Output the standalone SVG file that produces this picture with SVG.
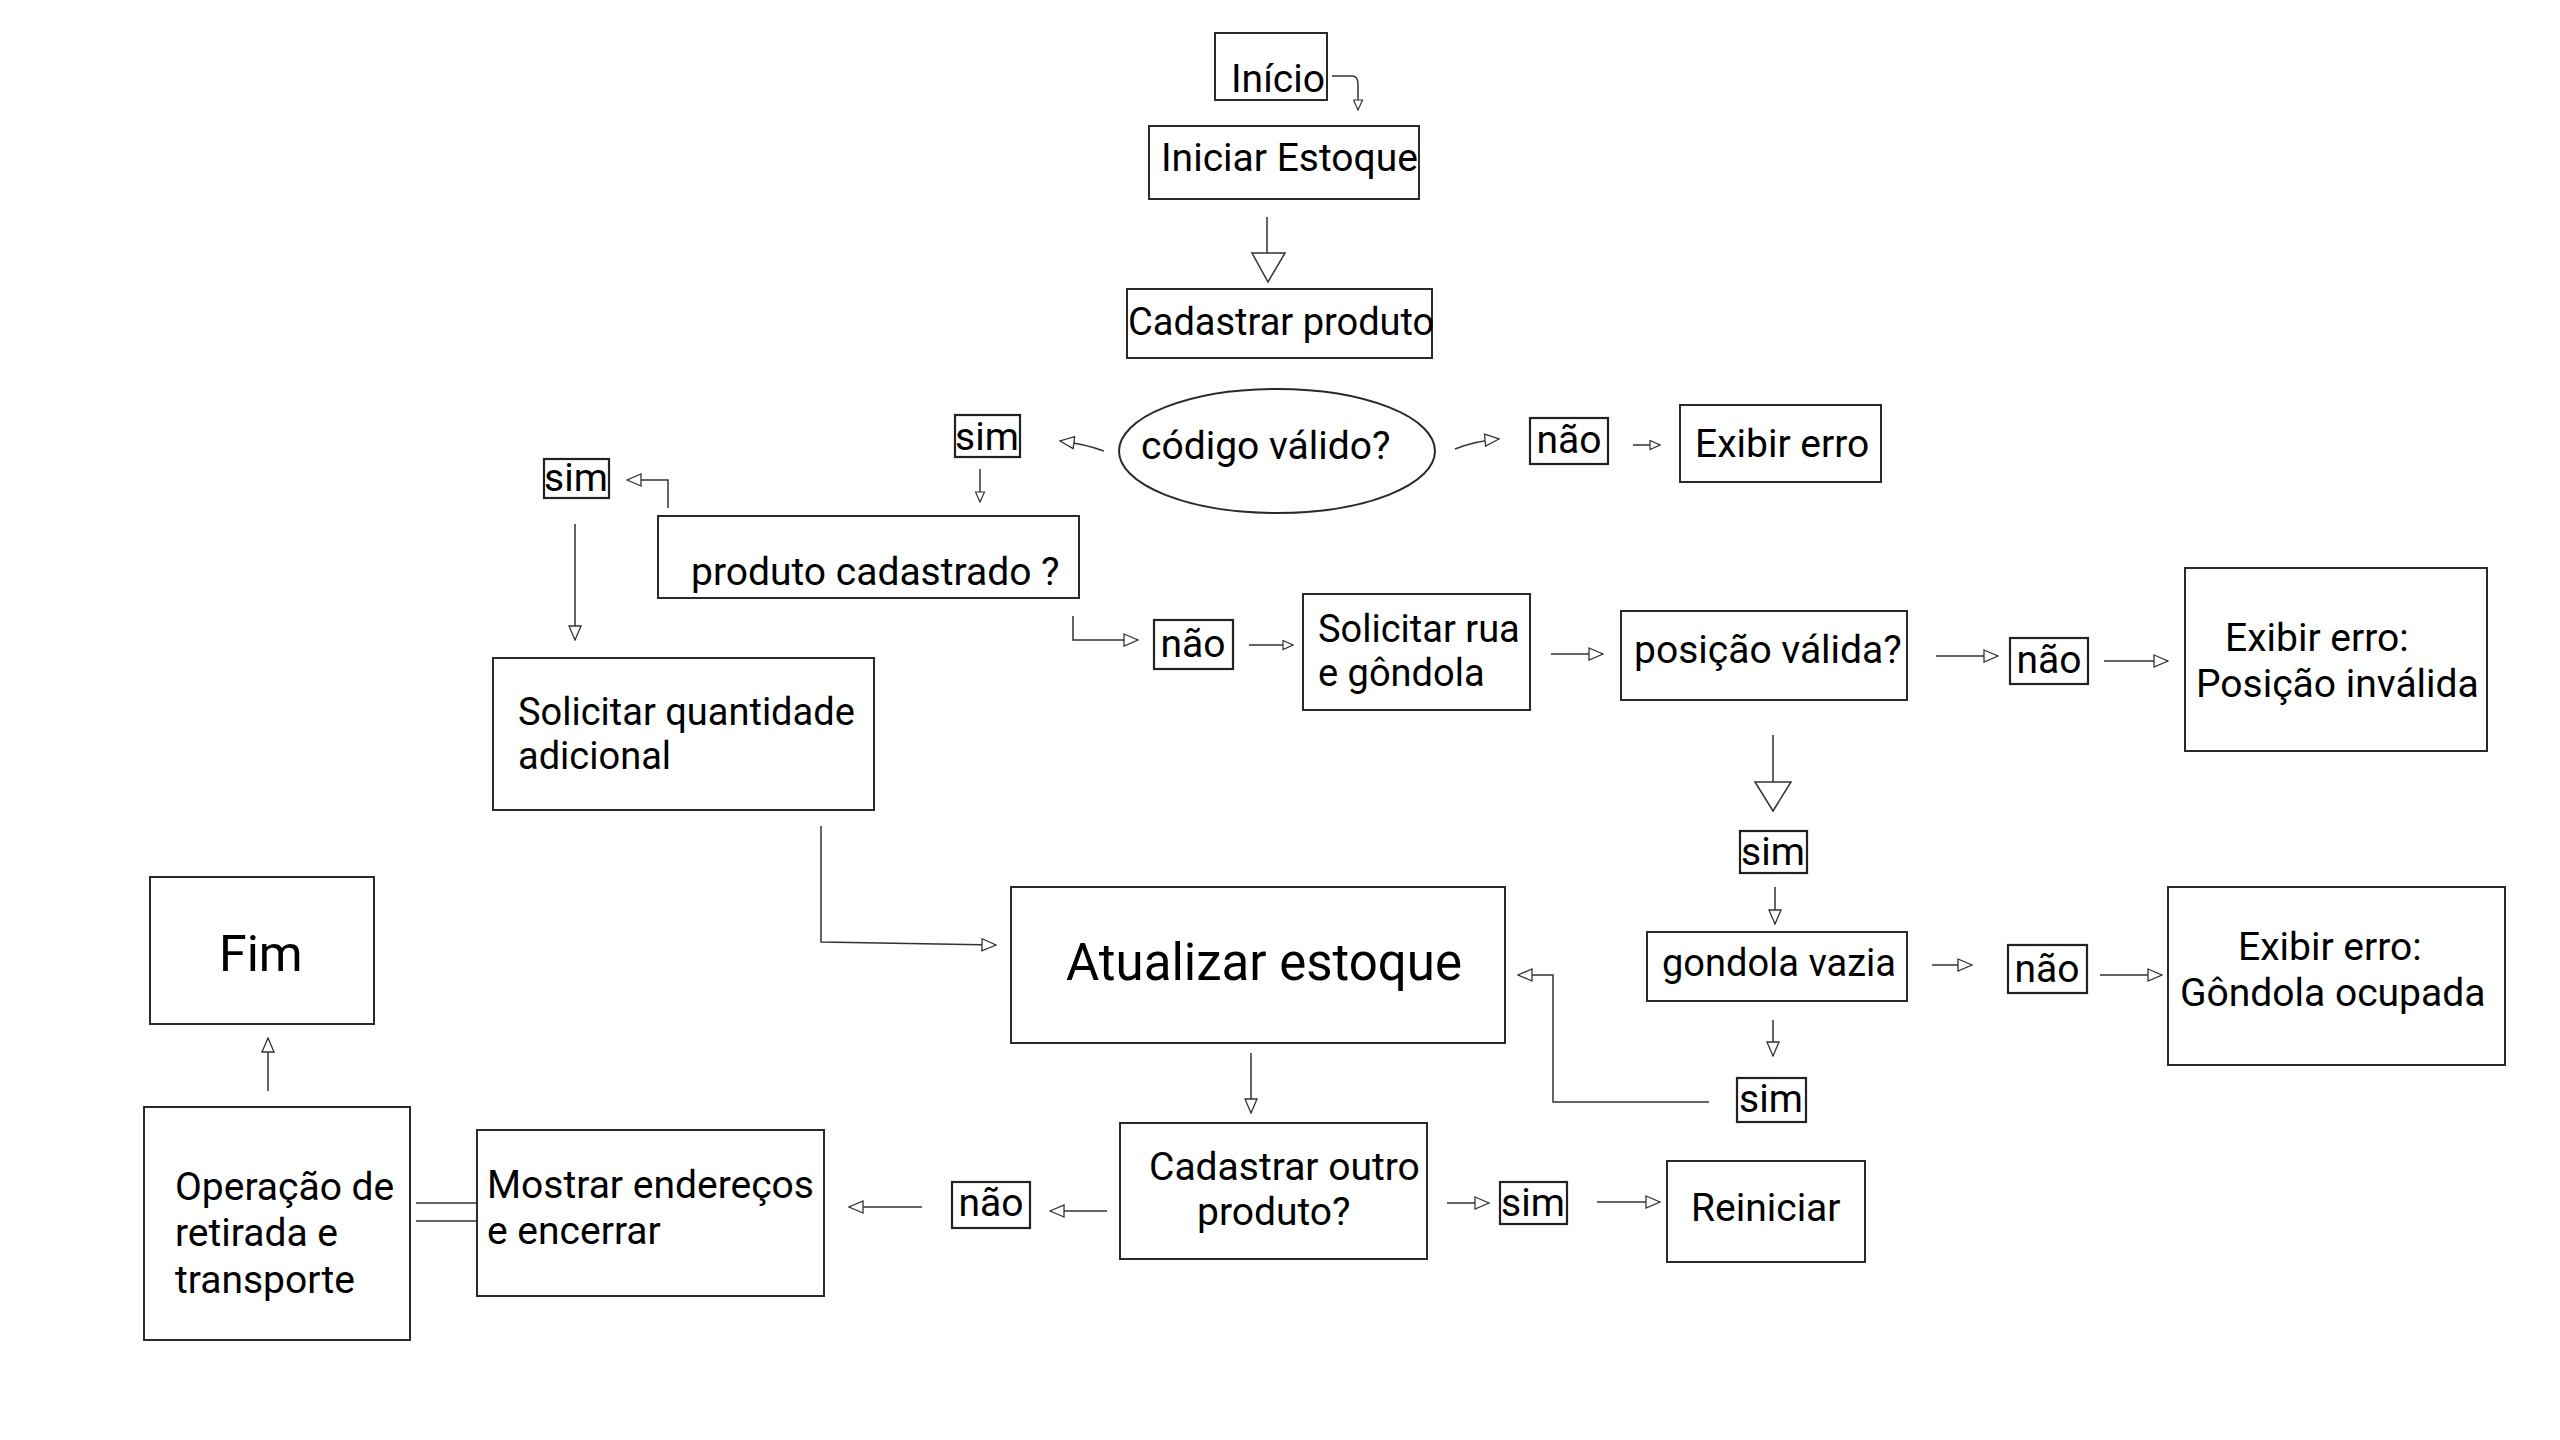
<svg xmlns="http://www.w3.org/2000/svg" width="2560" height="1440" viewBox="0 0 2560 1440">
<style>
.box{fill:#fff;stroke:#2a2a2a;stroke-width:2}
.lbl{fill:#fff;stroke:#222;stroke-width:2.2}
.t{font-family:Roboto,"Liberation Sans",sans-serif;font-size:39px;fill:#000}
.s38{font-size:38px}
.tm{text-anchor:middle}
.c{fill:none;stroke:#333;stroke-width:1.5}
.big{fill:#fff;stroke:#333;stroke-width:1.5}
</style>
<defs>
<marker id="ah" viewBox="0 0 16 14" refX="15" refY="7" markerWidth="16" markerHeight="14" markerUnits="userSpaceOnUse" orient="auto"><path d="M1,1 L15,7 L1,13 z" fill="#fff" stroke="#333" stroke-width="1.3"/></marker>
<marker id="ahs" viewBox="0 0 12 11" refX="11" refY="5.5" markerWidth="12" markerHeight="11" markerUnits="userSpaceOnUse" orient="auto"><path d="M1,1 L11,5.5 L1,10 z" fill="#fff" stroke="#333" stroke-width="1.2"/></marker>
</defs>
<rect width="2560" height="1440" fill="#fff"/>

<g id="connectors">
<path class="c" d="M1332,76 L1352,76 Q1358,76 1358,84 L1358,110" marker-end="url(#ahs)"/>
<line class="c" x1="1267" y1="217" x2="1267" y2="280"/>
<polygon class="big" points="1252,253 1285,253 1268,282"/>
<path class="c" d="M1104,451 Q1085,444 1060,441" marker-end="url(#ah)"/>
<path class="c" d="M1455,449 Q1475,441 1499,439" marker-end="url(#ah)"/>
<line class="c" x1="1633" y1="445" x2="1660" y2="445" marker-end="url(#ahs)"/>
<line class="c" x1="980" y1="469" x2="980" y2="502" marker-end="url(#ahs)"/>
<path class="c" d="M668,508 L668,480 L627,480" marker-end="url(#ah)"/>
<line class="c" x1="575" y1="524" x2="575" y2="640" marker-end="url(#ah)"/>
<path class="c" d="M1073,616 L1073,640 L1138,640" marker-end="url(#ah)"/>
<line class="c" x1="1249" y1="645" x2="1293" y2="645" marker-end="url(#ahs)"/>
<line class="c" x1="1551" y1="654" x2="1603" y2="654" marker-end="url(#ah)"/>
<line class="c" x1="1936" y1="656" x2="1998" y2="656" marker-end="url(#ah)"/>
<line class="c" x1="2104" y1="661" x2="2168" y2="661" marker-end="url(#ah)"/>
<line class="c" x1="1773" y1="735" x2="1773" y2="811"/>
<polygon class="big" points="1755,782 1791,782 1773,811"/>
<line class="c" x1="1775" y1="887" x2="1775" y2="924" marker-end="url(#ah)"/>
<line class="c" x1="1932" y1="965" x2="1972" y2="965" marker-end="url(#ah)"/>
<line class="c" x1="2100" y1="975" x2="2162" y2="975" marker-end="url(#ah)"/>
<line class="c" x1="1773" y1="1020" x2="1773" y2="1056" marker-end="url(#ah)"/>
<path class="c" d="M1709,1102 L1553,1102 L1553,975 L1518,975" marker-end="url(#ah)"/>
<path class="c" d="M821,826 L821,942 L996,945" marker-end="url(#ah)"/>
<line class="c" x1="1251" y1="1053" x2="1251" y2="1113" marker-end="url(#ah)"/>
<line class="c" x1="1447" y1="1203" x2="1489" y2="1203" marker-end="url(#ah)"/>
<line class="c" x1="1597" y1="1202" x2="1660" y2="1202" marker-end="url(#ah)"/>
<line class="c" x1="1107" y1="1211" x2="1050" y2="1211" marker-end="url(#ah)"/>
<line class="c" x1="922" y1="1207" x2="849" y2="1207" marker-end="url(#ah)"/>
<line class="c" x1="416" y1="1203" x2="476" y2="1203"/>
<line class="c" x1="416" y1="1221" x2="476" y2="1221"/>
<line class="c" x1="268" y1="1091" x2="268" y2="1038" marker-end="url(#ah)"/>
</g>

<g id="inicio"><rect class="box" x="1215" y="33" width="112" height="67"/><text class="t" x="1231" y="92">Início</text></g>
<g id="iniciar-estoque"><rect class="box" x="1149" y="126" width="270" height="73"/><text class="t" x="1161" y="171">Iniciar Estoque</text></g>
<g id="cadastrar-produto"><rect class="box" x="1127" y="289" width="305" height="69"/><text class="t s38" x="1128" y="335">Cadastrar produto</text></g>
<g id="codigo-valido"><ellipse class="box" cx="1277" cy="451" rx="158" ry="62"/><text class="t" x="1141" y="459">código válido?</text></g>
<g id="nao-1"><rect class="lbl" x="1530" y="418" width="78" height="46"/><text class="t tm" x="1569" y="453">não</text></g>
<g id="exibir-erro"><rect class="box" x="1680" y="405" width="201" height="77"/><text class="t" x="1695" y="457">Exibir erro</text></g>
<g id="sim-1"><rect class="lbl" x="955" y="415" width="65" height="42"/><text class="t tm" x="987" y="450">sim</text></g>
<g id="produto-cadastrado"><rect class="box" x="658" y="516" width="421" height="82"/><text class="t" x="691" y="585">produto cadastrado ?</text></g>
<g id="sim-2"><rect class="lbl" x="544" y="459" width="65" height="39"/><text class="t tm" x="576" y="491">sim</text></g>
<g id="solicitar-quantidade"><rect class="box" x="493" y="658" width="381" height="152"/><text class="t s38" x="518" y="725">Solicitar quantidade<tspan x="518" y="769">adicional</tspan></text></g>
<g id="nao-2"><rect class="lbl" x="1154" y="620" width="79" height="49"/><text class="t tm" x="1193" y="657">não</text></g>
<g id="solicitar-rua"><rect class="box" x="1303" y="594" width="227" height="116"/><text class="t s38" x="1318" y="642">Solicitar rua<tspan x="1318" y="686">e gôndola</tspan></text></g>
<g id="posicao-valida"><rect class="box" x="1621" y="611" width="286" height="89"/><text class="t" x="1634" y="663">posição válida?</text></g>
<g id="nao-3"><rect class="lbl" x="2010" y="638" width="78" height="46"/><text class="t tm" x="2049" y="673">não</text></g>
<g id="erro-posicao"><rect class="box" x="2185" y="568" width="302" height="183"/><text class="t" x="2225" y="651">Exibir erro:<tspan x="2196" y="697">Posição inválida</tspan></text></g>
<g id="sim-3"><rect class="lbl" x="1740" y="831" width="67" height="42"/><text class="t tm" x="1773" y="865">sim</text></g>
<g id="gondola-vazia"><rect class="box" x="1647" y="932" width="260" height="69"/><text class="t s38" x="1662" y="976">gondola vazia</text></g>
<g id="nao-4"><rect class="lbl" x="2008" y="945" width="79" height="48"/><text class="t tm" x="2047" y="982">não</text></g>
<g id="erro-gondola"><rect class="box" x="2168" y="887" width="337" height="178"/><text class="t" x="2238" y="960">Exibir erro:<tspan x="2180" y="1006">Gôndola ocupada</tspan></text></g>
<g id="sim-4"><rect class="lbl" x="1737" y="1078" width="69" height="44"/><text class="t tm" x="1771" y="1112">sim</text></g>
<g id="atualizar-estoque"><rect class="box" x="1011" y="887" width="494" height="156"/><text class="t" x="1066" y="980" style="font-size:51px">Atualizar estoque</text></g>
<g id="cadastrar-outro"><rect class="box" x="1120" y="1123" width="307" height="136"/><text class="t" x="1149" y="1180">Cadastrar outro<tspan x="1197" y="1225">produto?</tspan></text></g>
<g id="sim-5"><rect class="lbl" x="1500" y="1182" width="67" height="42"/><text class="t tm" x="1533" y="1216">sim</text></g>
<g id="reiniciar"><rect class="box" x="1667" y="1161" width="198" height="101"/><text class="t" x="1691" y="1221">Reiniciar</text></g>
<g id="nao-5"><rect class="lbl" x="952" y="1182" width="78" height="46"/><text class="t tm" x="991" y="1216">não</text></g>
<g id="mostrar-enderecos"><rect class="box" x="477" y="1130" width="347" height="166"/><text class="t" x="487" y="1198">Mostrar endereços<tspan x="487" y="1244">e encerrar</tspan></text></g>
<g id="operacao"><rect class="box" x="144" y="1107" width="266" height="233"/><text class="t" x="175" y="1200">Operação de<tspan x="175" y="1246">retirada e</tspan><tspan x="175" y="1293">transporte</tspan></text></g>
<g id="fim"><rect class="box" x="150" y="877" width="224" height="147"/><text class="t" x="219" y="971" style="font-size:50px">Fim</text></g>
</svg>
